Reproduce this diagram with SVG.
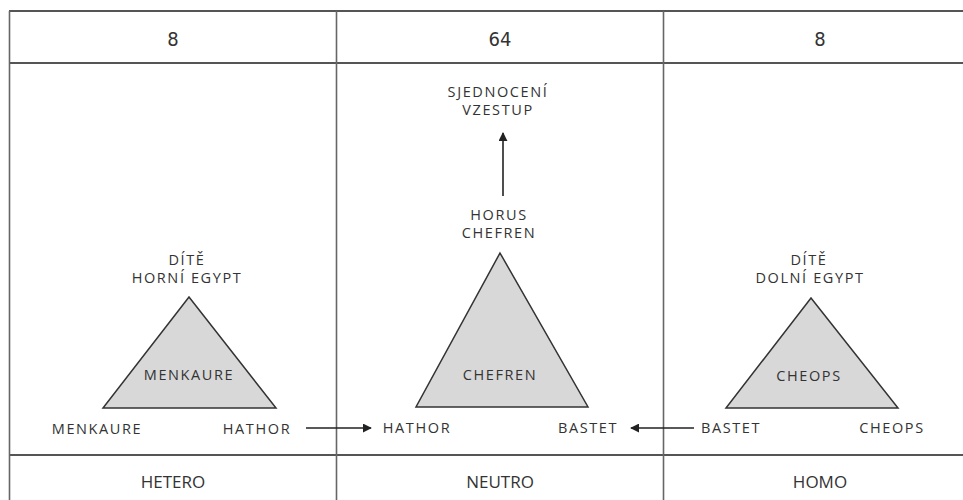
<svg xmlns="http://www.w3.org/2000/svg" width="963" height="500" viewBox="0 0 963 500">
<defs>
<marker id="ah" viewBox="0 0 10 10" refX="9" refY="5" markerWidth="9" markerHeight="9" markerUnits="userSpaceOnUse" orient="auto">
<path d="M0,0 L10,5 L0,10 Z" fill="#222"/>
</marker>
<style>
.grid{stroke:#555;stroke-width:2;fill:none}
.vgrid{stroke:#666;stroke-width:1.6;fill:none}
.tri{fill:#d8d8d8;stroke:#333;stroke-width:1.5;stroke-linejoin:miter}
.lbl{font-family:"Open Sans","Noto Sans",sans-serif;font-size:14.5px;fill:#333;text-anchor:middle;letter-spacing:1.6px}
.hdr{font-family:"DejaVu Sans Condensed","DejaVu Sans",sans-serif;font-size:20px;fill:#333;text-anchor:middle}
.ftr{font-family:"Open Sans","Noto Sans",sans-serif;font-size:17px;fill:#333;text-anchor:middle}
.conn{stroke:#222;stroke-width:1.6;fill:none}
</style>
</defs>
<rect width="963" height="500" fill="#fff"/>
<g id="table">
<line class="grid" x1="9" y1="11" x2="963" y2="11"/>
<line class="grid" x1="9" y1="63" x2="963" y2="63"/>
<line class="grid" x1="9" y1="455" x2="963" y2="455"/>
<line class="vgrid" x1="9.5" y1="11" x2="9.5" y2="500"/>
<line class="vgrid" x1="336.5" y1="11" x2="336.5" y2="500"/>
<line class="vgrid" x1="663.5" y1="11" x2="663.5" y2="500"/>
<text class="hdr" x="173" y="46">8</text>
<text class="hdr" x="500" y="46">64</text>
<text class="hdr" x="820" y="46">8</text>
<text class="ftr" x="173" y="488">HETERO</text>
<text class="ftr" x="500" y="488">NEUTRO</text>
<text class="ftr" x="820" y="488">HOMO</text>
</g>
<g id="connectors">
<line class="conn" x1="503" y1="196" x2="503" y2="133" marker-end="url(#ah)"/>
<line class="conn" x1="306" y1="428" x2="371" y2="428" marker-end="url(#ah)"/>
<line class="conn" x1="694" y1="428" x2="631" y2="428" marker-end="url(#ah)"/>
</g>
<g id="menkaure">
<polygon class="tri" points="189,297 276,408 103,408"/>
<text class="lbl" x="189" y="380">MENKAURE</text>
<text class="lbl" x="187" y="265">DÍTĚ</text>
<text class="lbl" x="187" y="283">HORNÍ EGYPT</text>
<text class="lbl" x="97" y="434">MENKAURE</text>
<text class="lbl" x="257" y="434">HATHOR</text>
</g>
<g id="chefren">
<polygon class="tri" points="500,253 588,407 416,407"/>
<text class="lbl" x="500" y="380">CHEFREN</text>
<text class="lbl" x="499" y="220">HORUS</text>
<text class="lbl" x="499" y="238">CHEFREN</text>
<text class="lbl" x="417" y="433">HATHOR</text>
<text class="lbl" x="588" y="433">BASTET</text>
</g>
<g id="sjednoceni">
<text class="lbl" x="498" y="97">SJEDNOCENÍ</text>
<text class="lbl" x="498" y="115">VZESTUP</text>
</g>
<g id="cheops">
<polygon class="tri" points="811,298 898,408 726,408"/>
<text class="lbl" x="809" y="381">CHEOPS</text>
<text class="lbl" x="809" y="265">DÍTĚ</text>
<text class="lbl" x="810" y="283">DOLNÍ EGYPT</text>
<text class="lbl" x="731" y="433">BASTET</text>
<text class="lbl" x="892" y="433">CHEOPS</text>
</g>
</svg>
